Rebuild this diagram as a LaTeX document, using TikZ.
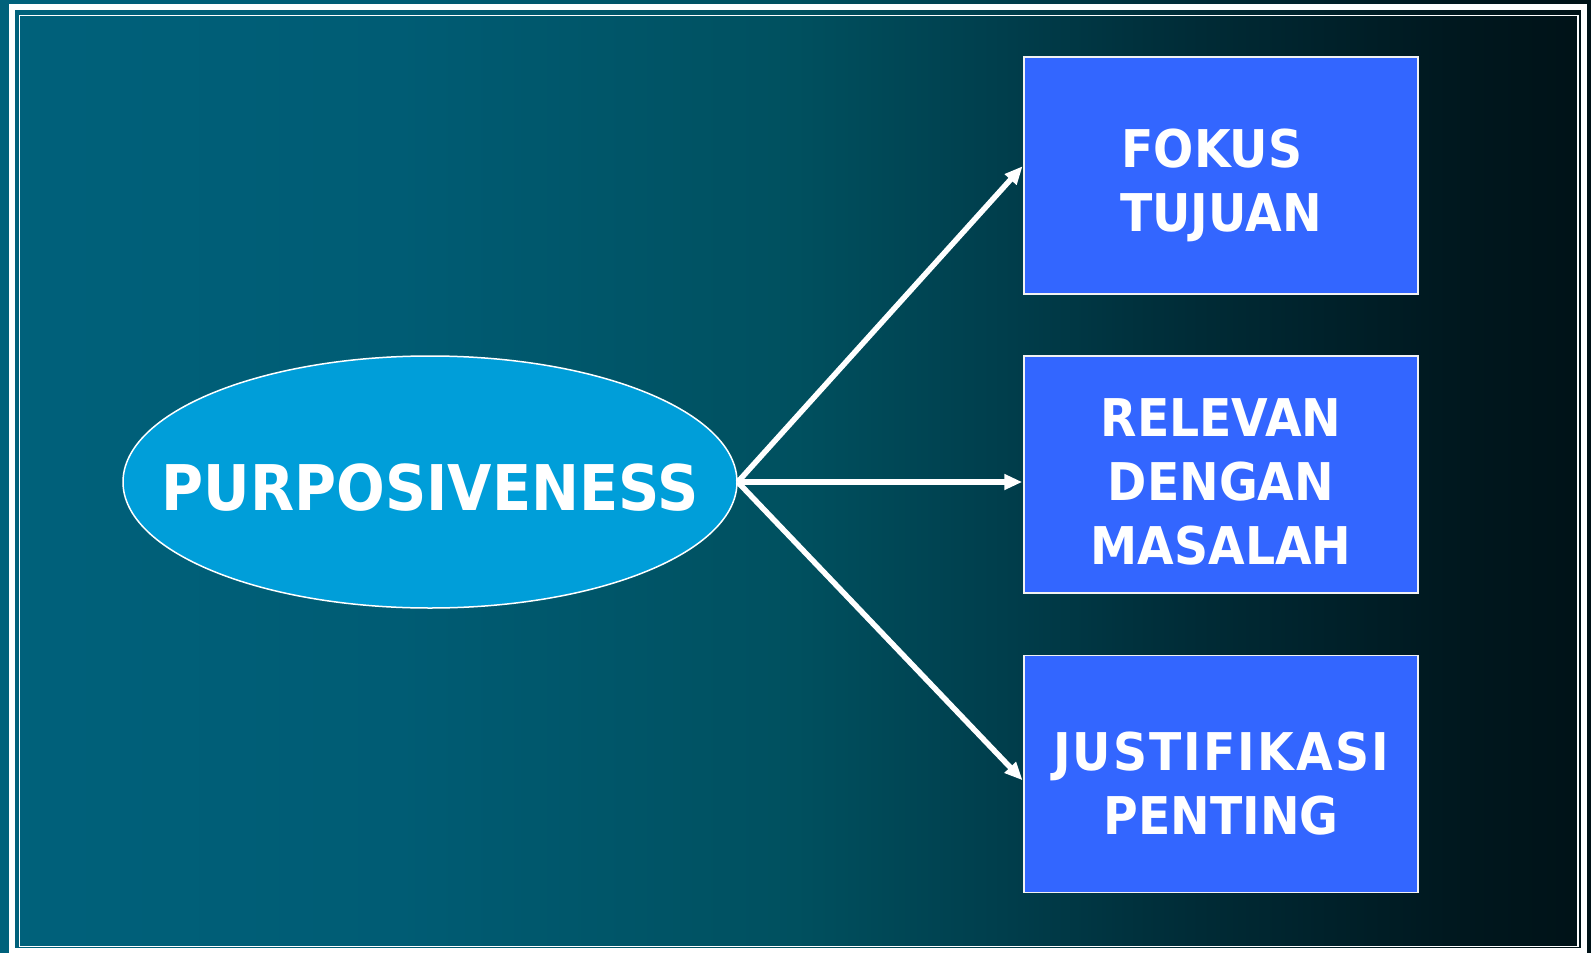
\documentclass[tikz,border=0pt]{standalone}
\usepackage{fontspec}
\setmainfont{DejaVu Sans}
\newfontfamily\labfont{DejaVu Sans}[FakeStretch=0.91]
\usetikzlibrary{shapes.geometric,arrows.meta}
\definecolor{bgA}{HTML}{00617B}
\definecolor{bgB}{HTML}{005C74}
\definecolor{bgC}{HTML}{00505F}
\definecolor{bgD}{HTML}{003E4C}
\definecolor{bgE}{HTML}{002B36}
\definecolor{bgF}{HTML}{00181F}
\definecolor{bgG}{HTML}{001217}
\definecolor{ellfill}{HTML}{009ED9}
\definecolor{boxfill}{HTML}{3366FF}
\pgfdeclarehorizontalshading{slidebg}{100bp}{color(0bp)=(bgA); color(25bp)=(bgA); color(37.5bp)=(bgB); color(50bp)=(bgC); color(56.5bp)=(bgD); color(62.7bp)=(bgE); color(70.5bp)=(bgF); color(75bp)=(bgG); color(100bp)=(bgG)}
\newcommand{\topstrut}[1]{\rule{0pt}{#1}}
\tikzset{
  ellnode/.style={ellipse, draw=white, line width=1.5pt, fill=ellfill, minimum width=614pt, minimum height=252pt, inner xsep=-80pt, inner ysep=-20pt, text=white, font=\labfont\bfseries\fontsize{63}{75}\selectfont},
  boxnode/.style={rectangle, draw=white!90!gray, line width=1.5pt, fill=boxfill, minimum width=394pt, minimum height=237pt, inner sep=0pt, text=white, align=center, font=\labfont\bfseries\fontsize{52}{64}\selectfont},
  conn/.style={draw=white, line width=5.5pt, -{Triangle[length=18pt,width=15pt]}, shorten >=1pt},
}
\begin{document}
\begin{tikzpicture}[x=1pt,y=-1pt]
\useasboundingbox (0,0) rectangle (1591,953);
\shade[shading=slidebg] (0,0) rectangle (1591,953);
\draw[white, line width=6pt] (12,7) rectangle (1583.5,951);
\draw[white, line width=1.8pt] (19.5,15.5) rectangle (1578,946.5);
\node[ellnode] (ell) at (430,482) {\topstrut{57pt}\smash{PURPOSIVENESS}};
\node[boxnode] (b1) at (1221,175.5) {\topstrut{48pt}FOKUS\hspace*{0.35em}\\\smash{TUJUAN}};
\node[boxnode] (b2) at (1221,474.5) {\topstrut{53pt}RELEVAN\\DENGAN\\MASALAH};
\node[boxnode] (b3) at (1221,774) {\addfontfeature{LetterSpace=4}\topstrut{57pt}JUSTIFIKASI\\\smash{PENTING}};
\draw[conn] (ell.east) -- ([yshift=10pt]b1.west);
\draw[conn] (ell.east) -- (b2.west |- ell.east);
\draw[conn] (ell.east) -- ([yshift=-7pt]b3.west);
\end{tikzpicture}
\end{document}
